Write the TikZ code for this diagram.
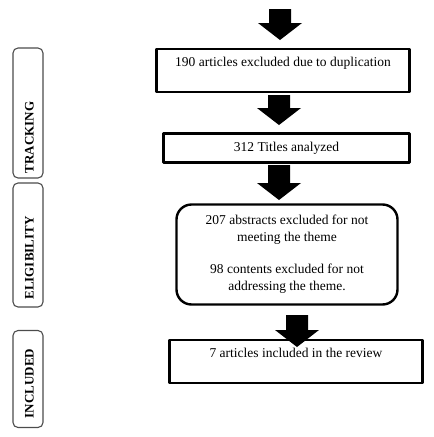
\documentclass[tikz,border=0pt]{standalone}
\usepackage{fontspec}
\setmainfont{Liberation Serif}
\usetikzlibrary{calc}

\tikzset{
  stagebox/.style={draw=black!70, line width=1.1pt, rounded corners=5pt, minimum width=30pt, inner sep=0pt},
  stagetext/.style={font=\fontsize{13}{15}\selectfont\bfseries, rotate=90, inner sep=0pt},
  mainbox/.style={draw, line width=2.4pt, inner sep=0pt, align=center, font=\fontsize{13.5}{17}\selectfont},
}

% block arrow: #1 top of stem, #2 tip
\newcommand{\blockarrow}[2]{%
  \fill let \p1=(#1), \p2=(#2) in
    (\x2-11pt,\y1) -- (\x2+11pt,\y1) -- (\x2+11pt,\y2+17pt) -- (\x2+22pt,\y2+17pt)
    -- (\x2,\y2) -- (\x2-22pt,\y2+17pt) -- (\x2-11pt,\y2+17pt) -- cycle;}

\begin{document}
\begin{tikzpicture}[x=1pt, y=-1pt, line join=round]
  \useasboundingbox (0,0) rectangle (434,437);

  % stages on the left
  \node[stagebox, minimum height=130pt] (trackbox) at (28,113) {};
  \node[stagetext] (tracklbl) at (29.5,137.5) {TRACKING};
  \node[stagebox, minimum height=124pt] (eligbox) at (28,245) {};
  \node[stagetext] (eliglbl) at (29.5,258) {ELIGIBILITY};
  \node[stagebox, minimum height=97pt] (inclbox) at (28,379) {};
  \node[stagetext] (incllbl) at (29.5,383.5) {INCLUDED};

  % flow boxes
  \node[mainbox, minimum width=253pt, minimum height=43pt] (dup) at (283,70.5)
    {190 articles excluded due to duplication\\\mbox{}};
  \node[mainbox, minimum width=246pt, minimum height=29pt] (titles) at (286.5,148)
    {312 Titles analyzed};
  \node[mainbox, rounded corners=15pt, minimum width=221pt, minimum height=100pt] (abstr) at (287,254.5)
    {207 abstracts excluded for not\\meeting the theme\\[15pt]98 contents excluded for not\\addressing the theme.};
  \node[mainbox, minimum width=253pt, minimum height=43pt] (incl) at (296,361.5)
    {7 articles included in the review\\\mbox{}};

  % arrows
  \coordinate (a1s) at (280,9);   \coordinate (a1e) at (280,40);
  \coordinate (a2s) at (279,95);  \coordinate (a2e) at (279,125);
  \coordinate (a3s) at (279,165); \coordinate (a3e) at (279,200);
  \coordinate (a4s) at (297,315); \coordinate (a4e) at (297,347);
  \blockarrow{a1s}{a1e}
  \blockarrow{a2s}{a2e}
  \blockarrow{a3s}{a3e}
  \blockarrow{a4s}{a4e}
\end{tikzpicture}
\end{document}
